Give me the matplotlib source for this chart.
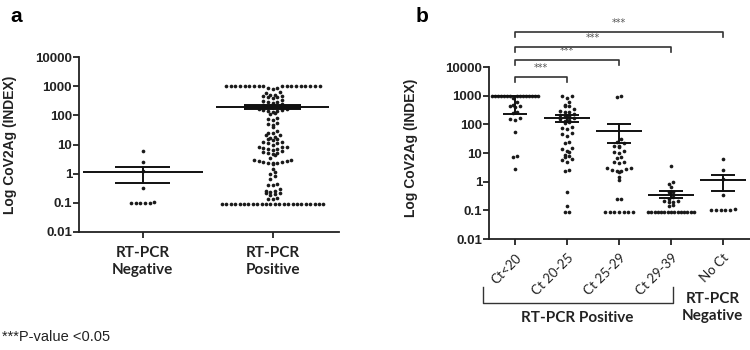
import numpy as np
import matplotlib
matplotlib.use('Agg')
import matplotlib.pyplot as plt
import matplotlib.transforms as mtransforms

# category names
a_groups = ['RT-PCR\nNegative', 'RT-PCR\nPositive']
b_groups = ['Ct<20', 'Ct 20-25', 'Ct 25-29', 'Ct 29-39', 'No Ct']

# values (INDEX)
ct_lt20 = [1000] * 15 + [850, 620, 480, 450, 420, 400, 280, 240, 160, 150, 140, 55, 8, 7, 2.8]
ct_20_25 = [1000, 1000, 800, 600, 480, 450, 420, 330, 300, 280, 260, 230, 210, 200, 190,
            170, 150, 140, 130, 120, 115, 80, 75, 70, 50, 45, 40, 25, 22, 15, 14, 12, 11,
            8.5, 8, 7.5, 6, 5.5, 5, 2.6, 2.4, 0.42, 0.14, 0.09, 0.09]
ct_25_29 = [1000, 900, 30, 25, 22, 18, 17, 16, 12, 11, 10, 7, 6.5, 5, 4.8, 4.5, 3, 2.9, 2.8,
            2.5, 2.4, 2.3, 2.2, 1.5, 1.1, 0.25, 0.24] + [0.09] * 7
ct_29_39 = [3.5, 1.0, 0.8, 0.65, 0.45, 0.42, 0.3, 0.25, 0.22, 0.21, 0.2, 0.19, 0.15, 0.14] + [0.09] * 15
no_ct = [6, 2.5, 1.2, 0.33] + [0.1] * 5 + [0.11]

rt_neg = no_ct
rt_pos = ct_lt20 + ct_20_25 + ct_25_29 + ct_29_39

# mean and SEM bars
a_mean = [1.1, 200]
a_lo = [0.48, 165]
a_hi = [1.7, 235]
b_mean = [950, 170, 60, 0.35, 1.1]
b_lo = [230, 120, 22, 0.27, 0.48]
b_hi = [1000, 210, 100, 0.47, 1.7]

y_ticks = [0.01, 0.1, 1, 10, 100, 1000, 10000]
y_ticklabels = ['0.01', '0.1', '1', '10', '100', '1000', '10000']

DOT = '#1a1a1a'


def swarm_offsets(vals, step, maxhalf, binh=0.12):
    # simple beeswarm: group close values into rows, spread each row sideways
    logs = np.log10(np.asarray(vals, dtype=float))
    order = np.argsort(-logs, kind='stable')
    offs = np.zeros(len(logs))
    rows = []
    cur = [order[0]]
    start = logs[order[0]]
    for i in order[1:]:
        if start - logs[i] > binh:
            rows.append(cur)
            cur = [i]
            start = logs[i]
        else:
            cur.append(i)
    rows.append(cur)
    for r in rows:
        k = len(r)
        slots = (np.arange(k) - (k - 1) / 2) * step
        half = (k - 1) / 2 * step
        if half > maxhalf:
            slots = slots * maxhalf / half
        slot_order = np.argsort(np.abs(slots), kind='stable')
        r_sorted = sorted(r, key=lambda i: logs[i])
        for idx, s in zip(r_sorted, slot_order):
            offs[idx] = slots[s]
    return offs


def draw_group(ax, x, vals, mean, lo, hi, step, maxhalf, mw, sw, lw):
    offs = swarm_offsets(vals, step, maxhalf)
    ax.scatter(x + offs, vals, s=7, color=DOT, linewidths=0, zorder=3, clip_on=False)
    ax.plot([x - mw / 2, x + mw / 2], [mean, mean], color='#111111', lw=lw, zorder=4,
            solid_capstyle='butt', clip_on=False)
    for v in (lo, hi):
        ax.plot([x - sw / 2, x + sw / 2], [v, v], color='#111111', lw=lw, zorder=4,
                solid_capstyle='butt', clip_on=False)
    ax.plot([x, x], [lo, hi], color='#111111', lw=lw, zorder=4, clip_on=False)


def style_axes(ax):
    ax.set_yscale('log')
    ax.set_ylim(0.01, 10000)
    ax.set_yticks(y_ticks)
    ax.set_yticklabels(y_ticklabels)
    ax.minorticks_off()
    for s in ['top', 'right']:
        ax.spines[s].set_visible(False)
    for s in ['left', 'bottom']:
        ax.spines[s].set_linewidth(1.3)
        ax.spines[s].set_color('#222222')
    ax.tick_params(axis='y', length=4, width=1.3, pad=1, labelsize=9.5, colors='#222222')
    ax.tick_params(axis='x', length=4, width=1.3, colors='#222222')
    for t in ax.get_yticklabels():
        t.set_fontweight('bold')
        t.set_family('Liberation Sans')
    ax.set_ylabel('Log CoV2Ag (INDEX)', fontsize=10, fontweight='bold', family='Liberation Sans',
                  color='#222222')


fig = plt.figure(figsize=(7.5, 3.5), dpi=100)

# ---- panel a
ax1 = fig.add_axes([79 / 750, 1 - 232 / 350, 260 / 750, 175 / 350])
style_axes(ax1)
ax1.set_xlim(-0.49, 1.51)
draw_group(ax1, 0, rt_neg, a_mean[0], a_lo[0], a_hi[0], 0.036, 0.39, 0.92, 0.42, 1.4)
draw_group(ax1, 1, rt_pos, a_mean[1], a_lo[1], a_hi[1], 0.036, 0.39, 0.87, 0.44, 1.4)
# thick band at positive mean
ax1.fill_between([1 - 0.22, 1 + 0.22], a_lo[1], a_hi[1], color='#111111', zorder=4, lw=0)
ax1.set_xticks([0, 1])
ax1.set_xticklabels(a_groups, fontsize=11, fontweight='bold', family='Lato', color='#222222',
                    linespacing=1.3)
ax1.tick_params(axis='x', pad=6)
ax1.yaxis.set_label_coords(-0.238, 0.5)

# ---- panel b
ax2 = fig.add_axes([489 / 750, 1 - 239 / 350, 261 / 750, 172 / 350])
style_axes(ax2)
ax2.set_xlim(-0.5, 4.52)
b_vals = [ct_lt20, ct_20_25, ct_25_29, ct_29_39, no_ct]
for i, v in enumerate(b_vals):
    draw_group(ax2, i, v, b_mean[i], b_lo[i], b_hi[i], 0.09, 0.44, 0.9, 0.47, 1.4)
ax2.set_xticks(range(len(b_groups)))
ax2.set_xticklabels(b_groups, rotation=45, ha='right', rotation_mode='anchor', fontsize=9.5,
                    family='Lato', color='#222222')
ax2.tick_params(axis='x', pad=5)
ax2.yaxis.set_label_coords(-0.272, 0.53)

# significance brackets
levels = [3.65, 4.24, 4.70, 5.22]
for j, lev in zip([1, 2, 3, 4], levels):
    y0 = 10 ** lev
    y1 = 10 ** (lev - 0.17)
    ax2.plot([0, 0, j, j], [y1, y0, y0, y1], color='#333333', lw=1.2, clip_on=False)
    ax2.text(j / 2, 10 ** (lev + 0.31), '***', ha='center', va='center', fontsize=7,
             color='#555555', family='DejaVu Sans')

# bottom group bracket
tr = mtransforms.blended_transform_factory(ax2.transData, ax2.transAxes)
ax2.plot([-0.62, -0.62, 3.04, 3.04], [-0.279, -0.372, -0.372, -0.279], color='#333333',
         lw=1.0, transform=tr, clip_on=False)
ax2.text(1.2, -0.46, 'RT-PCR Positive', transform=tr, ha='center', va='center', fontsize=11,
         fontweight='bold', family='Lato', color='#222222')
ax2.text(3.8, -0.40, 'RT-PCR\nNegative', transform=tr, ha='center', va='center', fontsize=11,
         fontweight='bold', family='Lato', color='#222222', linespacing=1.3)

# panel letters and footnote
fig.text(10 / 750, 1 - 17 / 350, 'a', fontsize=15, fontweight='bold', family='Liberation Sans',
         va='center', ha='left')
fig.text(422 / 750, 1 - 17 / 350, 'b', fontsize=15, fontweight='bold', family='Liberation Sans',
         va='center', ha='center')
fig.text(2 / 750, 1 - 337 / 350, '***P-value <0.05', fontsize=10.5, family='Liberation Sans',
         va='center', ha='left', color='#222222')

fig.savefig('out.png', dpi=100)
